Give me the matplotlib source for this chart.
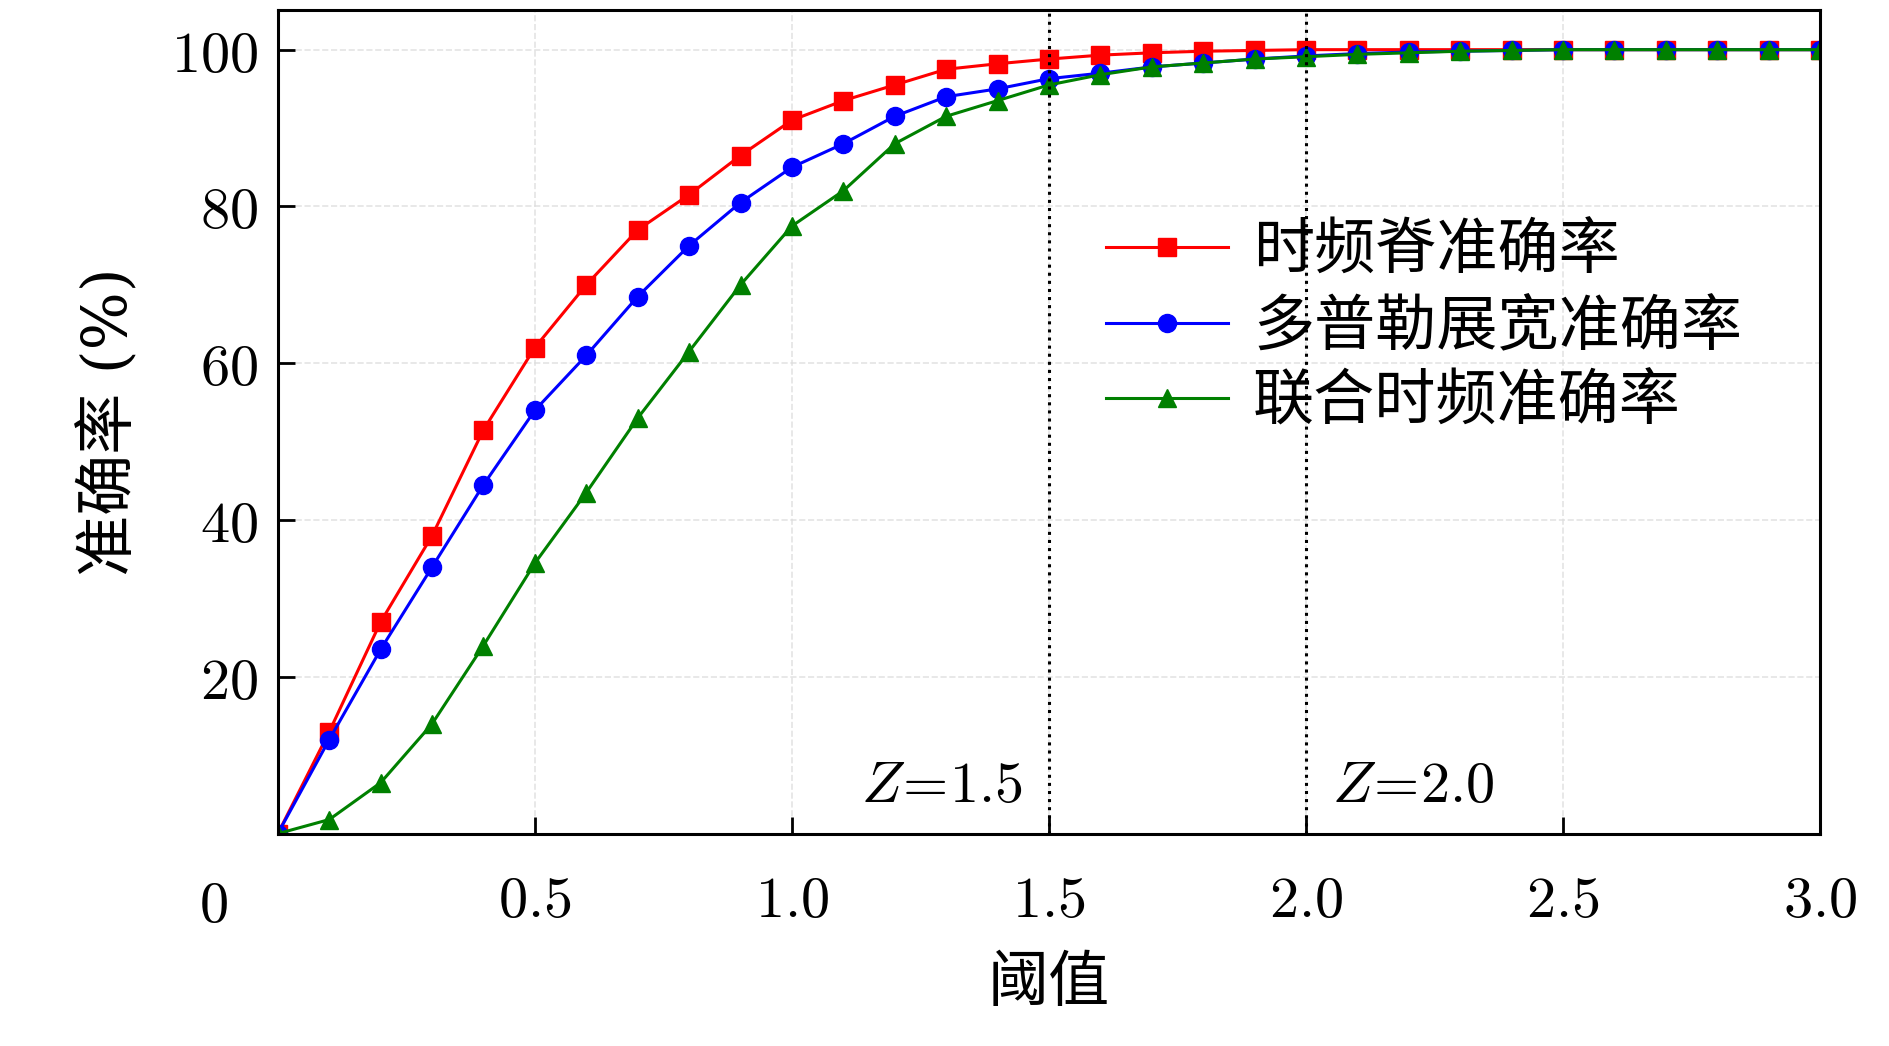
import numpy as np
import matplotlib
matplotlib.use("Agg")
import matplotlib.pyplot as plt
from matplotlib.ticker import FuncFormatter

plt.rcParams["font.family"] = ["DejaVu Serif", "Noto Sans CJK SC"]
plt.rcParams["mathtext.fontset"] = "cm"

thresholds = [round(0.1 * i, 1) for i in range(31)]
ridge_acc = [0, 13, 27, 38, 51.5, 62, 70, 77, 81.5, 86.5, 91, 93.5, 95.5, 97.5, 98.2, 98.8,
             99.3, 99.6, 99.8, 99.9, 100, 100, 100, 100, 100, 100, 100, 100, 100, 100, 100]
doppler_acc = [0, 12, 23.5, 34, 44.5, 54, 61, 68.5, 75, 80.5, 85, 88, 91.5, 94, 95, 96.3,
               97, 97.8, 98.3, 98.8, 99.2, 99.5, 99.7, 99.8, 99.9, 100, 100, 100, 100, 100, 100]
joint_acc = [0, 1.8, 6.5, 14, 24, 34.5, 43.5, 53, 61.5, 70, 77.5, 82, 88, 91.5, 93.5, 95.5,
             96.8, 97.8, 98.3, 98.8, 99.1, 99.4, 99.6, 99.8, 99.9, 100, 100, 100, 100, 100, 100]

fig = plt.figure(figsize=(18.9, 10.46), dpi=100)
ax = fig.add_axes([0.147, 0.203, 0.816, 0.787])

ax.plot(thresholds, ridge_acc, "-s", color="red", lw=2.2, ms=13, label="时频脊准确率")
ax.plot(thresholds, doppler_acc, "-o", color="blue", lw=2.2, ms=13, label="多普勒展宽准确率")
ax.plot(thresholds, joint_acc, "-^", color="green", lw=2.2, ms=13, label="联合时频准确率")

ax.axvline(1.5, color="black", ls=":", lw=2.2)
ax.axvline(2.0, color="black", ls=":", lw=2.2)
ax.text(1.45, 2.5, r"$Z\!=\!1.5$", ha="right", va="bottom", fontsize=42)
ax.text(2.05, 2.5, r"$Z\!=\!2.0$", ha="left", va="bottom", fontsize=42)

ax.set_xlim(0, 3)
ax.set_ylim(0, 105)
ax.set_xticks([0.5, 1.0, 1.5, 2.0, 2.5, 3.0])
ax.set_yticks([20, 40, 60, 80, 100])
ax.xaxis.set_major_formatter(FuncFormatter(lambda v, p: f"${v:.1f}$"))
ax.yaxis.set_major_formatter(FuncFormatter(lambda v, p: f"${v:.0f}$"))
ax.tick_params(direction="in", length=12, width=2, labelsize=42)
ax.tick_params(axis="x", pad=28)
ax.tick_params(axis="y", pad=14)
ax.text(-0.042, -0.088, "$0$", transform=ax.transAxes, fontsize=42, ha="center", va="center")
for s in ax.spines.values():
    s.set_linewidth(2.2)
ax.grid(True, ls="--", color="#dddddd", lw=1.2, alpha=0.8)

ax.set_xlabel("阈值", fontsize=44, labelpad=18)
ax.set_ylabel("准确率 (%)", fontsize=44, labelpad=22)
ax.legend(loc="upper right", bbox_to_anchor=(0.985, 0.81), frameon=False, fontsize=44,
          handlelength=2.0, labelspacing=0.25, handletextpad=0.4)

fig.savefig("out.png", dpi=100)
